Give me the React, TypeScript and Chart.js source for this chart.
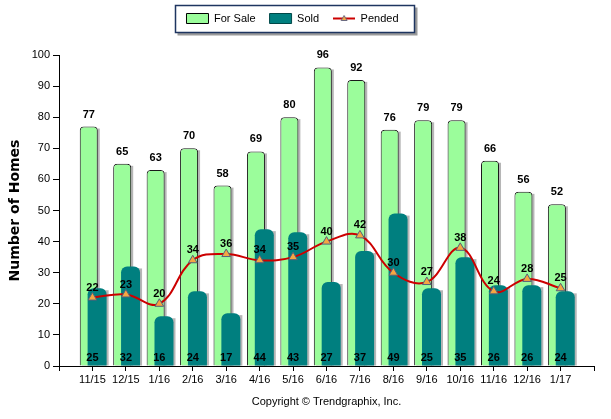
import { useEffect, useRef } from 'react';
import { Chart, registerables } from 'chart.js';

Chart.register(...registerables);

const months = ['11/15', '12/15', '1/16', '2/16', '3/16', '4/16', '5/16', '6/16', '7/16', '8/16', '9/16', '10/16', '11/16', '12/16', '1/17'];
const forSale = [77, 65, 63, 70, 58, 69, 80, 96, 92, 76, 79, 79, 66, 56, 52];
const sold = [25, 32, 16, 24, 17, 44, 43, 27, 37, 49, 25, 35, 26, 26, 24];
const pended = [22, 23, 20, 34, 36, 34, 35, 40, 42, 30, 27, 38, 24, 28, 25];
const seriesNames = ['For Sale', 'Sold', 'Pended'];
const yTitle = 'Number of Homes';
const copyright = 'Copyright © Trendgraphix, Inc.';

const GREEN = '#9BFD9B';
const TEAL = '#007F7F';
const RED = '#CC0000';
const ORANGE = '#F5A742';
const FONT = '"Liberation Sans", Arial, sans-serif';

function makePendedIcon(): HTMLCanvasElement {
  const c = document.createElement('canvas');
  c.width = 22;
  c.height = 11;
  const g = c.getContext('2d')!;
  g.strokeStyle = RED;
  g.lineWidth = 2;
  g.beginPath();
  g.moveTo(0, 5.5);
  g.lineTo(22, 5.5);
  g.stroke();
  g.beginPath();
  g.moveTo(11, 2.5);
  g.lineTo(14, 7.5);
  g.lineTo(8, 7.5);
  g.closePath();
  g.fillStyle = ORANGE;
  g.fill();
  g.strokeStyle = '#6A6A80';
  g.lineWidth = 1;
  g.stroke();
  return c;
}

const legendPlugin = {
  id: 'legendTweaks',
  afterInit(chart: any) {
    const lg = chart.legend;
    if (lg && !lg.__patched) {
      const fit = lg.fit.bind(lg);
      lg.fit = () => {
        fit();
        lg.height = 55;
      };
      lg.__patched = true;
    }
  },
  afterLayout(chart: any) {
    const lg = chart.legend;
    lg.left -= 4.5;
    lg.right -= 4.5;
    lg.top -= 1;
  },
  beforeDraw(chart: any) {
    const lg = chart.legend;
    const ctx = chart.ctx;
    const pad = lg.options.labels.padding;
    const w = lg.lineWidths[0];
    const start = (lg.left + pad + lg.right - w) / 2;
    const end = start + w - pad;
    const x0 = Math.round(start - 11) + 0.5;
    const x1 = Math.round(end + 15) + 0.5;
    const y0 = 5.5;
    const y1 = 32.5;
    ctx.save();
    ctx.fillStyle = '#9a9a9a';
    ctx.fillRect(x0 + 2, y0 + 2, x1 - x0 + 1, y1 - y0 + 1);
    ctx.fillStyle = '#ffffff';
    ctx.fillRect(x0, y0, x1 - x0, y1 - y0);
    ctx.strokeStyle = '#1E3560';
    ctx.lineWidth = 1.5;
    ctx.strokeRect(x0, y0, x1 - x0, y1 - y0);
    ctx.restore();
  },
};

const barShadowPlugin = {
  id: 'barShadow',
  beforeDatasetDraw(chart: any, args: any) {
    if (args.meta.type !== 'bar') return;
    const ctx = chart.ctx;
    ctx.save();
    ctx.fillStyle = 'rgba(110,110,110,0.5)';
    args.meta.data.forEach((el: any) => {
      const p = el.getProps(['x', 'y', 'base', 'width'], true);
      ctx.fillRect(p.x - p.width / 2 + 2, p.y + 2, p.width, p.base - p.y - 2);
    });
    ctx.restore();
  },
};

const valueLabelPlugin = {
  id: 'valueLabels',
  afterDatasetsDraw(chart: any) {
    const ctx = chart.ctx;
    const xs = chart.scales.x;
    const ys = chart.scales.y;
    ctx.save();
    ctx.font = `bold 11px ${FONT}`;
    ctx.fillStyle = '#000';
    ctx.textAlign = 'center';
    ctx.textBaseline = 'middle';
    chart.getDatasetMeta(0).data.forEach((el: any, i: number) => {
      ctx.fillText(String(forSale[i]), el.x, el.y - 12);
    });
    sold.forEach((v, i) => {
      ctx.fillText(String(v), xs.getPixelForValue(i + 1), ys.getPixelForValue(0) - 8);
    });
    chart.getDatasetMeta(2).data.forEach((el: any, i: number) => {
      ctx.fillText(String(pended[i]), el.x, el.y - 10);
    });
    ctx.restore();
  },
};

export default function App() {
  const ref = useRef<HTMLCanvasElement>(null);

  useEffect(() => {
    const icon = makePendedIcon();
    const chart = new Chart(ref.current!, {
      type: 'bar',
      data: {
        datasets: [
          {
            type: 'bar',
            label: seriesNames[0],
            data: forSale.map((v, i) => ({ x: i + 1, y: v })),
            xAxisID: 'xFor',
            yAxisID: 'y',
            backgroundColor: GREEN,
            borderColor: '#1a1a1a',
            borderWidth: 1,
            borderSkipped: 'bottom',
            borderRadius: { topLeft: 4, topRight: 4, bottomLeft: 0, bottomRight: 0 },
            grouped: false,
            maxBarThickness: 18,
            order: 3,
          } as any,
          {
            type: 'bar',
            label: seriesNames[1],
            data: sold.map((v, i) => ({ x: i + 1, y: v })),
            xAxisID: 'xSold',
            yAxisID: 'y',
            backgroundColor: TEAL,
            borderWidth: 0,
            borderSkipped: 'bottom',
            borderRadius: { topLeft: 6, topRight: 6, bottomLeft: 0, bottomRight: 0 },
            grouped: false,
            maxBarThickness: 19,
            order: 2,
          } as any,
          {
            type: 'line',
            label: seriesNames[2],
            data: pended.map((v, i) => ({ x: i + 1, y: v })),
            xAxisID: 'x',
            yAxisID: 'y',
            borderColor: RED,
            borderWidth: 2,
            tension: 0.4,
            fill: false,
            pointStyle: 'triangle',
            pointRadius: 5,
            pointBackgroundColor: ORANGE,
            pointBorderColor: '#55607A',
            pointBorderWidth: 1,
            order: 1,
          } as any,
        ],
      },
      options: {
        animation: false,
        responsive: true,
        maintainAspectRatio: false,
        events: [],
        layout: { padding: { left: 0, right: 17, top: 0, bottom: 0 } },
        scales: {
          x: {
            type: 'linear',
            min: 0,
            max: months.length + 1,
            offset: false,
            bounds: 'data',
            position: 'bottom',
            afterFit: (s: any) => {
              s.height = 53;
            },
            ticks: {
              stepSize: 1,
              autoSkip: false,
              maxRotation: 0,
              padding: 2,
              color: '#000',
              font: { family: FONT, size: 11 },
              callback: (v: any) => months[Number(v) - 1] ?? '',
            },
            grid: { display: true, offset: false, drawOnChartArea: false, drawTicks: true, tickLength: 5, color: '#000' },
            border: { display: true, color: '#000', width: 1 },
            title: {
              display: true,
              text: copyright,
              color: '#000',
              font: { family: FONT, size: 11 },
              padding: { top: 0, bottom: 10 },
            },
          },
          xFor: {
            type: 'linear',
            display: false,
            offset: false,
            bounds: 'data',
            grid: { offset: false },
            ticks: { stepSize: 1 },
            min: 0.11,
            max: months.length + 1.11,
          },
          xSold: {
            type: 'linear',
            display: false,
            offset: false,
            bounds: 'data',
            grid: { offset: false },
            ticks: { stepSize: 1 },
            min: -0.14,
            max: months.length + 0.86,
          },
          y: {
            type: 'linear',
            min: 0,
            max: 100,
            afterFit: (s: any) => {
              s.width = 59;
            },
            ticks: {
              stepSize: 10,
              padding: 3,
              color: '#000',
              font: { family: FONT, size: 11 },
            },
            grid: { display: true, drawOnChartArea: false, drawTicks: true, tickLength: 6, color: '#000' },
            border: { display: true, color: '#000', width: 1 },
            title: {
              display: true,
              text: yTitle,
              color: '#000',
              font: { family: '"DejaVu Sans", Verdana, sans-serif', size: 14, weight: 'bold' },
              padding: { top: 7, bottom: 0 },
            },
          },
        },
        plugins: {
          tooltip: { enabled: false },
          title: { display: false },
          legend: {
            display: true,
            position: 'top',
            labels: {
              usePointStyle: true,
              pointStyleWidth: 22,
              boxHeight: 10,
              padding: 14,
              color: '#200830',
              font: { family: FONT, size: 11 },
              generateLabels: () => [
                { text: seriesNames[0], fillStyle: GREEN, strokeStyle: '#000', lineWidth: 1, pointStyle: 'rect', hidden: false, datasetIndex: 0 },
                { text: seriesNames[1], fillStyle: TEAL, strokeStyle: '#004848', lineWidth: 1, pointStyle: 'rect', hidden: false, datasetIndex: 1 },
                { text: seriesNames[2], fillStyle: RED, strokeStyle: RED, lineWidth: 0, pointStyle: icon, hidden: false, datasetIndex: 2 },
              ] as any,
            },
          },
        },
      } as any,
      plugins: [legendPlugin, barShadowPlugin, valueLabelPlugin],
    });
    return () => chart.destroy();
  }, []);

  return (
    <div style={{ position: 'absolute', left: 0, top: 0, width: 611, height: 419 }}>
      <canvas ref={ref} />
    </div>
  );
}
